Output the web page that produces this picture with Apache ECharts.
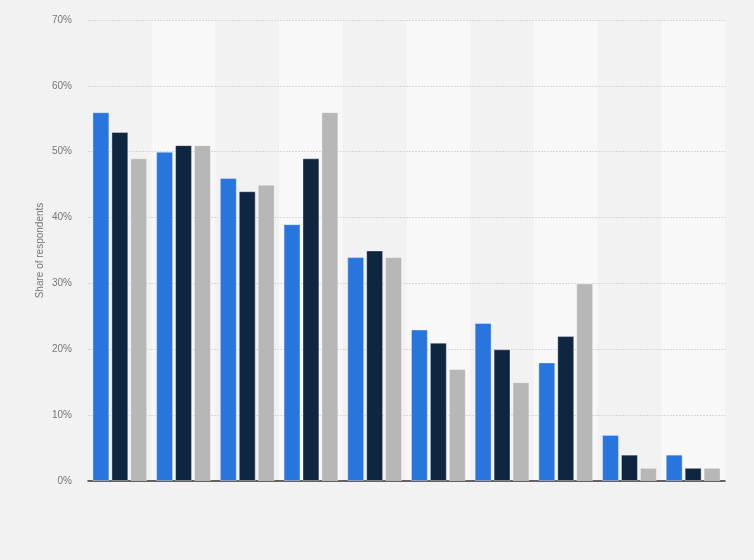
<!DOCTYPE html>
<html>
<head>
<meta charset="utf-8">
<script src="https://cdn.jsdelivr.net/npm/echarts@6/dist/echarts.min.js"></script>
<style>
  html, body { margin: 0; padding: 0; background: #f2f2f2; }
  #chart { width: 754px; height: 560px; }
</style>
</head>
<body>
<div id="chart"></div>
<script>
var categories = ['A', 'B', 'C', 'D', 'E', 'F', 'G', 'H', 'I', 'J'];
var seriesNames = ['Series 1', 'Series 2', 'Series 3'];
var series1 = [56, 50, 46, 39, 34, 23, 24, 18, 7, 4];
var series2 = [53, 51, 44, 49, 35, 21, 20, 22, 4, 2];
var series3 = [49, 51, 45, 56, 34, 17, 15, 30, 2, 2];
var colors = ['#2876dd', '#0f2641', '#b7b7b7'];
var yTicks = [0, 10, 20, 30, 40, 50, 60, 70];

var chart = echarts.init(document.getElementById('chart'));

var values = [series1, series2, series3];
var series = values.map(function (d, i) {
  return {
    name: seriesNames[i],
    type: 'bar',
    data: d,
    z: 3,
    barGap: '12%',
    barCategoryGap: '14%',
    itemStyle: {
      color: colors[i],
      borderColor: 'rgba(255,255,255,0.35)',
      borderWidth: 1
    }
  };
});

chart.setOption({
  backgroundColor: '#f2f2f2',
  animation: false,
  grid: { left: 88, right: 29, top: 20, bottom: 79 },
  xAxis: {
    type: 'category',
    data: categories,
    z: 0,
    axisLine: { lineStyle: { color: '#333', width: 1.5 } },
    axisTick: { show: false },
    axisLabel: { show: false },
    splitArea: { show: true, areaStyle: { color: ['#f2f2f2', '#f8f8f8'] } }
  },
  yAxis: {
    type: 'value',
    z: 1,
    min: yTicks[0],
    max: yTicks[yTicks.length - 1],
    interval: 10,
    name: 'Share of respondents',
    nameLocation: 'middle',
    nameGap: 43,
    nameMoveOverlap: false,
    nameTextStyle: { color: '#777', fontSize: 10, fontFamily: 'Arial, Liberation Sans' },
    axisLine: { show: false },
    axisTick: { show: false },
    axisLabel: {
      formatter: '{value}%',
      color: '#777',
      fontSize: 10,
      fontFamily: 'Arial, Liberation Sans',
      margin: 16
    },
    splitLine: { showMinLine: false, lineStyle: { color: '#d8d8d8', type: [2, 1], width: 1 } }
  },
  series: series
});
</script>
</body>
</html>
